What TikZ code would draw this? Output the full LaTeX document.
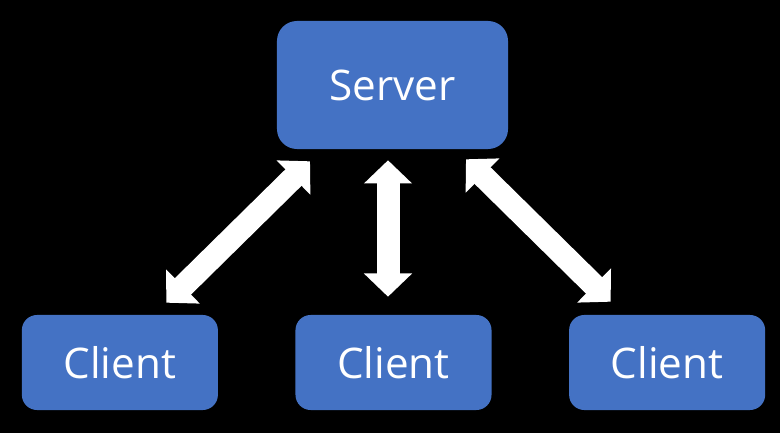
\documentclass[tikz,border=0pt]{standalone}
\usepackage{fontspec}
\setmainfont{Open Sans}
\usetikzlibrary{positioning,arrows.meta}
\definecolor{boxColor}{RGB}{68, 114, 196}
\definecolor{labelColor}{RGB}{255, 255, 255}
\definecolor{bgColor}{RGB}{0, 0, 0}

\begin{document}
\begin{tikzpicture}[x=0.025cm, y=0.025cm,
    serverbox/.style={fill=boxColor, rounded corners=0.5cm, minimum width=5.775cm,
        minimum height=3.2cm, inner sep=0pt, text=labelColor, font=\fontsize{30}{36}\selectfont},
    clientbox/.style={fill=boxColor, rounded corners=0.38cm, minimum width=4.9cm,
        minimum height=2.375cm, inner sep=0pt, text=labelColor, font=\fontsize{30}{36}\selectfont},
    link/.style={draw=labelColor, line width=0.575cm,
        arrows={Triangle[width=1.17cm,length=0.58cm]-Triangle[width=1.17cm,length=0.58cm]}}]
            % Background
            \useasboundingbox (0,0) rectangle (780,433);
            \fill[bgColor] (0,0) rectangle (780,433);

            % Server box
            \node[serverbox] (server) at (392.5,348) {Server};

            % Client boxes
            \node[clientbox] (client2) at (393.5,70.5) {Client};
            \node[clientbox, left=1.925cm of client2] (client1) {Client};
            \node[clientbox, right=1.925cm of client2] (client3) {Client};

            % Double arrows
            \draw[link] ([shift={(-82.5,-12)}]server.south) -- ([shift={(46.5,12)}]client1.north);
            \draw[link] ([shift={(-4.5,-11)}]server.south) -- ([shift={(-5.5,18)}]client2.north);
            \draw[link] ([shift={(73.5,-10)}]server.south) -- ([shift={(-56.5,13)}]client3.north);
        \end{tikzpicture}
\end{document}
